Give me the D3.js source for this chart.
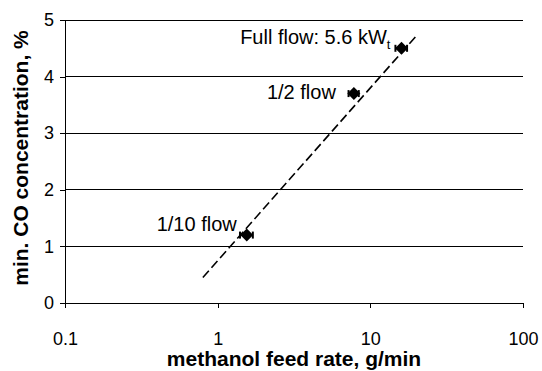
<!DOCTYPE html>
<html>
<head>
<meta charset="utf-8">
<script src="https://cdn.jsdelivr.net/npm/d3@7"></script>
<style>
  html, body { margin: 0; padding: 0; background: #fff; }
  svg { display: block; font-family: "Liberation Sans", Arial, sans-serif; }
</style>
</head>
<body>
<svg id="chart" width="542" height="371"></svg>
<script>
// Operating points: methanol feed rate (g/min) vs. minimum CO concentration (%)
const labels = ["1/10 flow", "1/2 flow", "Full flow: 5.6 kW"];
const feedRate = [1.55, 7.8, 16];
const feedErr = [0.15, 0.6, 1.4];
const coConc = [1.2, 3.7, 4.5];

// Logarithmic trend line end points
const fitX = [0.8, 20];
const fitY = [0.45, 4.72];

const xTicks = [0.1, 1, 10, 100];
const yTicks = [0, 1, 2, 3, 4, 5];

const margin = { left: 65, right: 19, top: 20, bottom: 68 };
const W = 542, H = 371;

const svg = d3.select("#chart");
const x = d3.scaleLog().domain([0.1, 100]).range([margin.left, W - margin.right]);
const y = d3.scaleLinear().domain([0, 5]).range([H - margin.bottom, margin.top]);

// Horizontal gridlines
svg.append("g")
  .selectAll("line")
  .data(yTicks.filter(d => d > 0))
  .join("line")
  .attr("x1", x(0.1)).attr("x2", x(100))
  .attr("y1", d => y(d)).attr("y2", d => y(d))
  .attr("stroke", "#000").attr("stroke-width", 1)
  .attr("shape-rendering", "crispEdges");

// Y axis
const yAxis = svg.append("g")
  .attr("transform", `translate(${x(0.1)},0)`)
  .call(d3.axisLeft(y).tickValues(yTicks).tickFormat(d3.format("d")).tickSize(5).tickPadding(6));
yAxis.select(".domain").attr("stroke", "#000").attr("shape-rendering", "crispEdges");
yAxis.selectAll(".tick line").attr("stroke", "#000").attr("shape-rendering", "crispEdges");
yAxis.selectAll("text").attr("font-size", 18).attr("fill", "#000")
  .attr("font-family", "Liberation Sans, Arial, sans-serif");

// X axis
const xAxis = svg.append("g")
  .attr("transform", `translate(0,${y(0)})`)
  .call(d3.axisBottom(x).tickValues(xTicks).tickFormat(d => d3.format("")(d)).tickSize(5).tickPadding(24));
xAxis.select(".domain").attr("stroke", "#000").attr("shape-rendering", "crispEdges");
xAxis.selectAll(".tick line").attr("stroke", "#000").attr("shape-rendering", "crispEdges");
xAxis.selectAll("text").attr("font-size", 18).attr("fill", "#000")
  .attr("font-family", "Liberation Sans, Arial, sans-serif");

// Axis titles
svg.append("text")
  .attr("x", 294).attr("y", 366)
  .attr("text-anchor", "middle")
  .attr("font-size", 21).attr("font-weight", "bold")
  .text("methanol feed rate, g/min");

svg.append("text")
  .attr("transform", `translate(28,158) rotate(-90)`)
  .attr("text-anchor", "middle")
  .attr("font-size", 21).attr("font-weight", "bold")
  .text("min. CO concentration, %");

// Trend line
svg.append("path")
  .datum(fitX.map((d, i) => [d, fitY[i]]))
  .attr("d", d3.line().x(d => x(d[0])).y(d => y(d[1])))
  .attr("fill", "none").attr("stroke", "#000")
  .attr("stroke-width", 1.6).attr("stroke-dasharray", "9,4");

const pts = feedRate.map((d, i) => ({ x: d, e: feedErr[i], y: coConc[i], label: labels[i] }));

// Horizontal error bars
const eb = svg.append("g").selectAll("g").data(pts).join("g");
eb.append("line")
  .attr("x1", d => x(d.x - d.e)).attr("x2", d => x(d.x + d.e))
  .attr("y1", d => y(d.y)).attr("y2", d => y(d.y))
  .attr("stroke", "#000").attr("stroke-width", 2);
eb.append("line")
  .attr("x1", d => x(d.x - d.e)).attr("x2", d => x(d.x - d.e))
  .attr("y1", d => y(d.y) - 3.5).attr("y2", d => y(d.y) + 3.5)
  .attr("stroke", "#000").attr("stroke-width", 2);
eb.append("line")
  .attr("x1", d => x(d.x + d.e)).attr("x2", d => x(d.x + d.e))
  .attr("y1", d => y(d.y) - 3.5).attr("y2", d => y(d.y) + 3.5)
  .attr("stroke", "#000").attr("stroke-width", 2);

// Diamond markers
const r = 6.5;
svg.append("g").selectAll("path").data(pts).join("path")
  .attr("transform", d => `translate(${x(d.x)},${y(d.y)})`)
  .attr("d", `M0,${-r}L${r},0L0,${r}L${-r},0Z`)
  .attr("fill", "#000");

// Point labels
const offsets = [[-10, -4], [-18, 5], [-11, -4]];
const lab = svg.append("g").selectAll("text").data(pts).join("text")
  .attr("x", (d, i) => x(d.x) + offsets[i][0])
  .attr("y", (d, i) => y(d.y) + offsets[i][1])
  .attr("text-anchor", "end")
  .attr("font-size", 20).attr("fill", "#000");
lab.each(function (d, i) {
  const t = d3.select(this);
  t.append("tspan").text(d.label);
  if (i === 2) {
    t.append("tspan").attr("font-size", 13).attr("dy", 5).text("t");
  }
});
</script>
</body>
</html>
